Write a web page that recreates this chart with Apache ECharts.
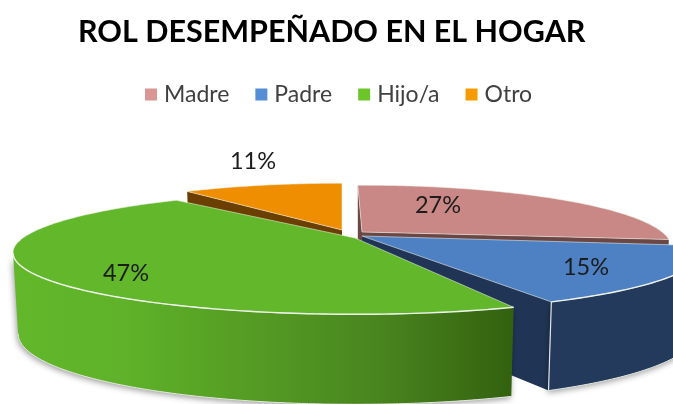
<!DOCTYPE html>
<html>
<head>
<meta charset="utf-8">
<style>html,body{margin:0;padding:0;background:#fff}#c{width:673px;height:404px}</style>
<script src="https://cdn.jsdelivr.net/npm/echarts@6/dist/echarts.min.js"></script>
</head>
<body>
<div id="c"></div>
<script>
const titleText = 'ROL DESEMPEÑADO EN EL HOGAR';
const categories = ['Madre', 'Padre', 'Hijo/a', 'Otro'];
const values = [27, 15, 47, 11];
const legendColors = ['#d99694', '#558ed5', '#6cc62a', '#f79a00'];
const topColors = ['#c98885', '#4d81c3', '#62b72a', '#ef8e00'];
const cutColors = ['#6a4644', '#203556', '#203556', '#6b3f00'];
const wallStops = [
  [[0, '#5c3a38'], [1, '#5c3a38']],
  [[0, '#233a5c'], [1, '#233a5c']],
  [[0, '#62b72a'], [0.22, '#5fb229'], [0.72, '#4a861f'], [1, '#33610f']],
  [[0, '#6b3f00'], [1, '#6b3f00']]
];
// view settings of the tilted pie: pivot of each exploded slice, radius, drift of the cut angles
const pivotX = [362, 362, 355, 342];
const pivotY = [232, 236, 238, 230];
const radius = [300, 330, 332, 302];
const startDrift = [-1, 2, 7, 2];
const endDrift = [0, 2, 0, 0];
const labelDX = [76, 224, -229, -89];
const labelDY = [-27, 31, 35, -69];
const drawOrder = [3, 0, 1, 2];
const tiltA = 58, persp = 0.24, depthBase = 78, depthFront = 12, narrowing = 0.015;

const total = values.reduce((a, b) => a + b, 0);
const startDeg = [], endDeg = [];
values.reduce((acc, v, i) => {
  startDeg[i] = acc / total * 360;
  endDeg[i] = (acc + v) / total * 360;
  return acc + v;
}, 0);

function project(i, deg, r, z) {
  const t = deg * Math.PI / 180;
  const u = r * Math.sin(t), v = -r * Math.cos(t);
  const den = 1 - persp * v;
  return [
    pivotX[i] + radius[i] * u / den * (1 - narrowing * z),
    pivotY[i] + tiltA * v / den + z * (depthBase + depthFront * v)
  ];
}
function arc(i, a, b, z) {
  const n = Math.max(2, Math.ceil(Math.abs(b - a)));
  const pts = [];
  for (let k = 0; k <= n; k++) pts.push(project(i, a + (b - a) * k / n, 1, z));
  return pts;
}
const edge = '#eef2ea';
// the rim's silhouette lies where cos(angle) = -persp
const rimLimit = Math.acos(-persp) * 180 / Math.PI;

function renderSlice(i) {
  return function (params, api) {
    const a = startDeg[i] + startDrift[i], b = endDeg[i] + endDrift[i];
    const children = [];
    const sinA = Math.sin(a * Math.PI / 180), sinB = Math.sin(b * Math.PI / 180);
    const cut = (d) => ({
      type: 'polygon',
      shape: { points: [project(i, d, 0, 0), project(i, d, 1, 0), project(i, d, 1, 1), project(i, d, 0, 1)] },
      style: { fill: cutColors[i] }
    });
    if (sinA <= 1e-6) children.push(cut(a));
    if (sinB > 1e-6) children.push(cut(b));
    // outer wall: only the near part of the rim is visible
    const fa = Math.max(a, rimLimit), fb = Math.min(b, 360 - rimLimit);
    if (fb > fa) {
      const topRim = arc(i, fa, fb, 0), botRim = arc(i, fb, fa, 1);
      const xs = topRim.concat(botRim).map(p => p[0]);
      children.push({
        type: 'polygon',
        shape: { points: topRim.concat(botRim) },
        style: {
          fill: {
            type: 'linear', global: true,
            x: Math.min.apply(null, xs), y: 0, x2: Math.max.apply(null, xs), y2: 0,
            colorStops: wallStops[i].map(s => ({ offset: s[0], color: s[1] }))
          },
          shadowBlur: 6, shadowColor: 'rgba(0,0,0,0.4)', shadowOffsetY: 2, shadowOffsetX: -1
        }
      });
      children.push({
        type: 'polyline',
        shape: { points: botRim },
        style: { stroke: '#e4e8e0', fill: null, lineWidth: 1 }
      });
      if (b < 270) {
        children.push({
          type: 'polyline',
          shape: { points: [project(i, fb, 1, 0), project(i, fb, 1, 1)] },
          style: { stroke: '#dfe4ea', fill: null, lineWidth: 1.2 }
        });
      }
    }
    // top face
    children.push({
      type: 'polygon',
      shape: { points: [project(i, a, 0, 0)].concat(arc(i, a, b, 0)) },
      style: { fill: topColors[i], stroke: 'rgba(238,242,234,0.55)', lineWidth: 1 }
    });
    if (fb > fa) {
      children.push({
        type: 'polyline',
        shape: { points: arc(i, fa, fb, 0) },
        style: { stroke: edge, fill: null, lineWidth: 1.4 }
      });
    }
    children.push({
      type: 'text',
      style: {
        text: api.value(0) + '%',
        x: pivotX[i] + labelDX[i], y: pivotY[i] + labelDY[i],
        fill: '#1c1c1c', font: '23.5px Lato',
        align: 'center', verticalAlign: 'middle'
      }
    });
    return { type: 'group', children };
  };
}

const chart = echarts.init(document.getElementById('c'), null, { renderer: 'canvas' });
chart.setOption({
  animation: false,
  backgroundColor: '#ffffff',
  title: {
    text: titleText, left: 73, top: 12,
    textStyle: { fontFamily: 'Lato', fontWeight: 'bold', fontSize: 30.5, color: '#000000' }
  },
  legend: {
    data: categories, top: 78, left: 140,
    icon: 'rect', itemWidth: 12, itemHeight: 12, itemGap: 26,
    textStyle: { fontFamily: 'Lato', fontSize: 23, color: '#404040', padding: [0, 0, 0, 2] }
  },
  series: drawOrder.map(i => ({
    type: 'custom',
    name: categories[i],
    coordinateSystem: 'none',
    silent: true,
    itemStyle: { color: legendColors[i] },
    renderItem: renderSlice(i),
    data: [[values[i]]]
  }))
});
</script>
</body>
</html>
